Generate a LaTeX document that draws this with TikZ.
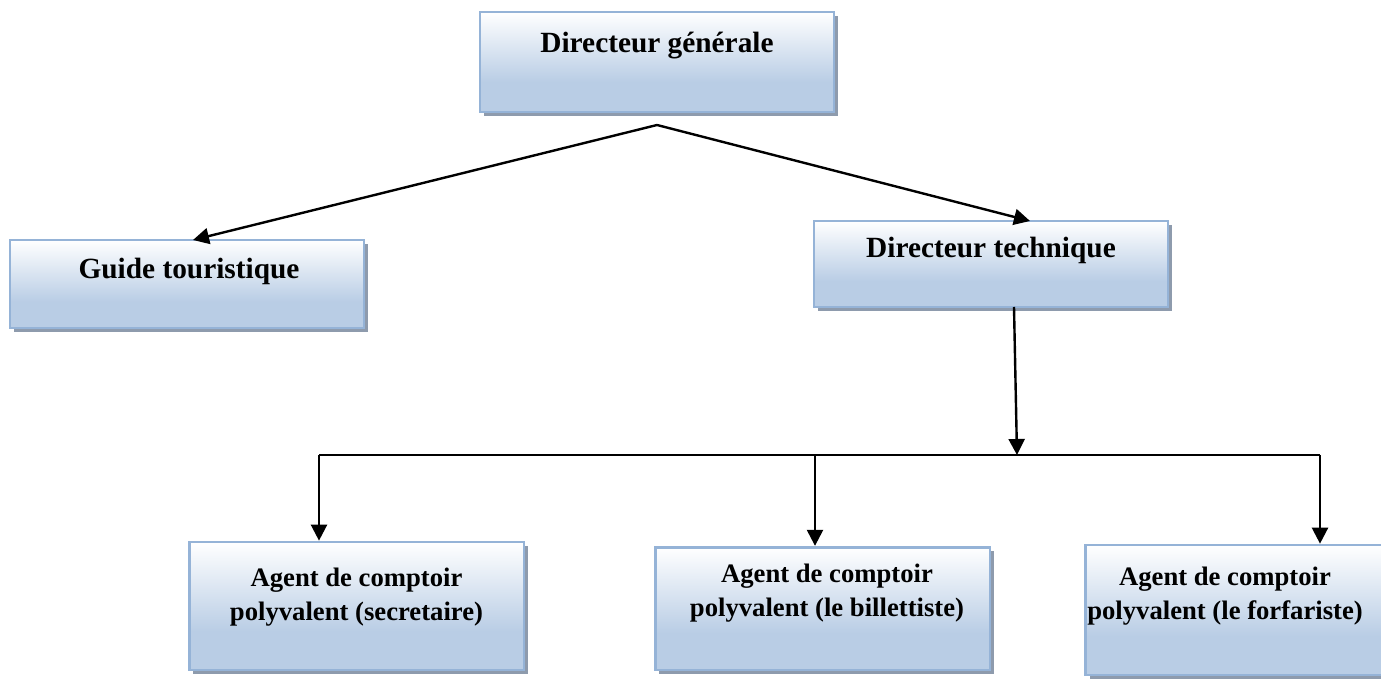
\documentclass[tikz,border=0pt]{standalone}
\usepackage{fontspec}
\setmainfont{Liberation Serif}
\usetikzlibrary{arrows.meta,shadows}
\definecolor{boxblue}{HTML}{B9CDE5}
\definecolor{boxborder}{HTML}{95B3D7}
\definecolor{shadowgray}{HTML}{8E9BAD}
\pgfdeclareverticalshading{boxshade}{100bp}{color(0bp)=(boxblue); color(40bp)=(boxblue); color(75bp)=(white); color(100bp)=(white)}
\tikzset{
  x=0.75pt, y=-0.75pt,
  orgbox/.style={draw=boxborder, line width=2pt, shading=boxshade, inner sep=0pt,
    drop shadow={shadow xshift=3pt, shadow yshift=-3pt, fill=shadowgray, opacity=1}},
  lbl/.style={font=\bfseries\fontsize{22}{26}\selectfont, inner sep=0pt, align=center},
  lbls/.style={font=\bfseries\fontsize{20}{26}\selectfont, inner sep=0pt, align=center},
  conn/.style={line width=1.8pt, black},
  arr/.style={conn, -{Triangle[length=12pt, width=12pt]}}
}
\begin{document}
\begin{tikzpicture}
\useasboundingbox (0,0) rectangle (1381,680);
% boxes
\node[orgbox, minimum width=265.5pt, minimum height=75pt] (dg) at (657,62) {};
\node[lbl] (dgt) at (657,46) {Directeur générale};
\node[orgbox, minimum width=265.5pt, minimum height=66pt] (gt) at (187,284) {};
\node[lbl] (gtt) at (189,271) {Guide touristique};
\node[orgbox, minimum width=265.5pt, minimum height=64.5pt] (dt) at (991,264) {};
\node[lbl] (dtt) at (991,250) {Directeur technique};
\node[orgbox, minimum width=251pt, minimum height=96pt] (a1) at (356.5,606) {};
\node[lbls] (a1t) at (356.5,597) {Agent de comptoir\\polyvalent (secretaire)};
\node[orgbox, minimum width=251pt, minimum height=92pt] (a2) at (822.5,608.5) {};
\node[lbls] (a2t) at (827,593) {Agent de comptoir\\polyvalent (le billettiste)};
\node[orgbox, minimum width=251pt, minimum height=97.5pt] (a3) at (1253,610) {};
\node[lbls] (a3t) at (1225,596) {Agent de comptoir\\polyvalent (le forfariste)};
% connectors
\coordinate (apex) at (657,125);
\coordinate (gtin) at (193,240);
\coordinate (dtin) at (1030,221);
\draw[arr] (apex) -- (gtin);
\draw[arr] (apex) -- (dtin);
\coordinate (dtout) at (1014,307);
\coordinate (bus) at (1017,455);
\draw[arr] (dtout) -- (bus);
\coordinate (busl) at (319,455);
\coordinate (busm) at (815,455);
\coordinate (busr) at (1320,455);
\draw[conn] (busl) -- (busr);
\draw[arr] (busl) -- (busl |- a1.north);
\draw[arr] (busm) -- (busm |- a2.north);
\draw[arr] (busr) -- (busr |- a3.north);
\end{tikzpicture}
\end{document}
